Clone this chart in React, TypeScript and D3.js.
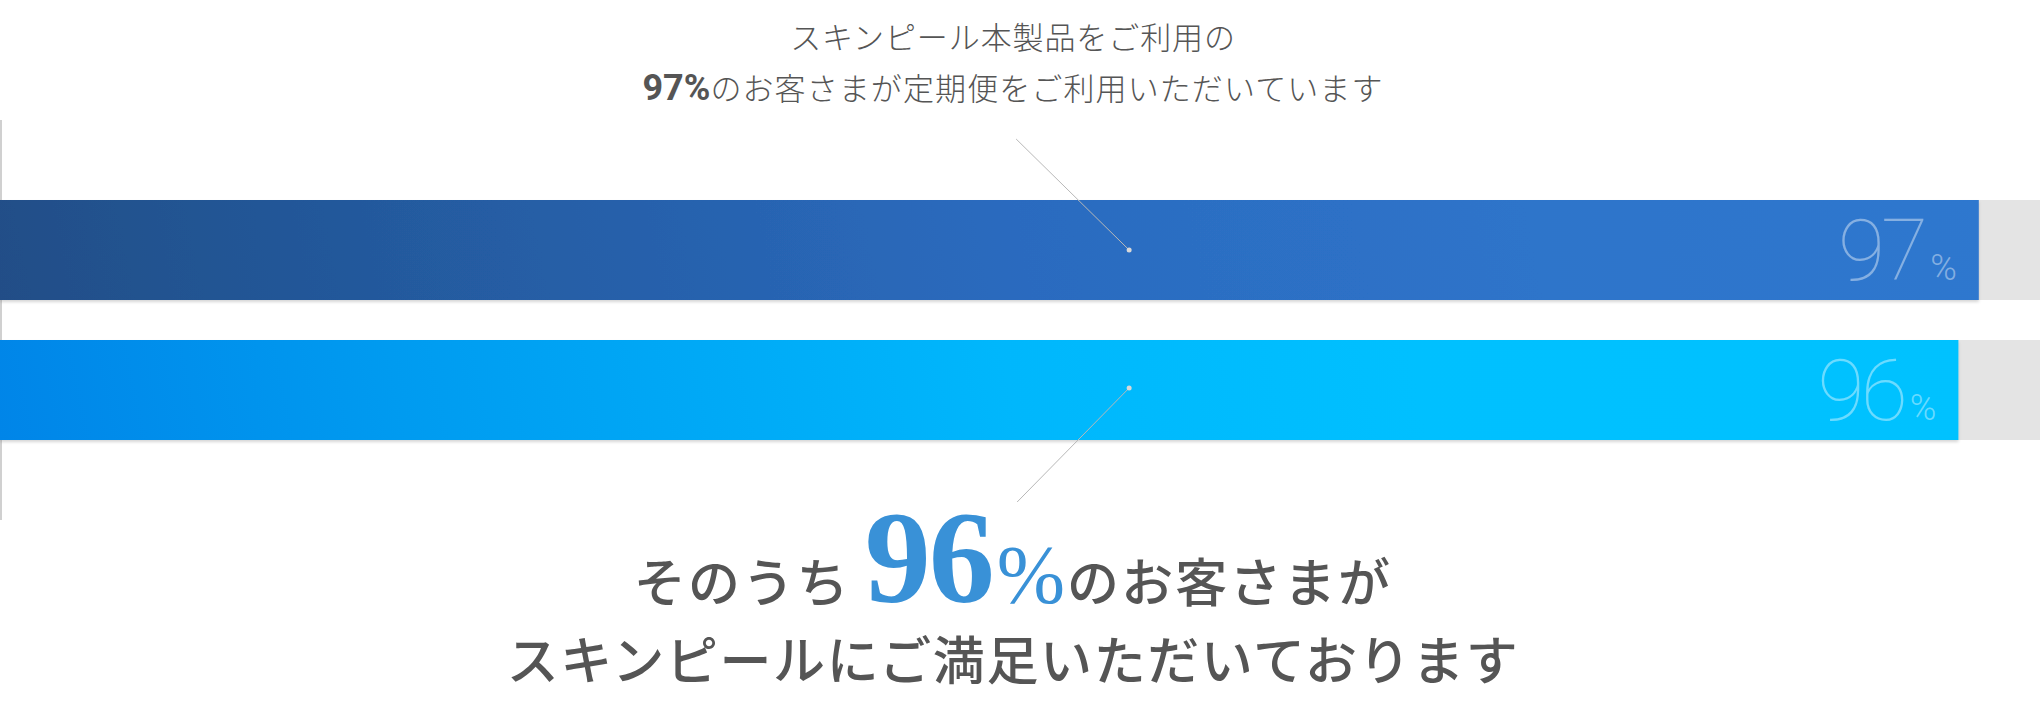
import { useEffect, useRef } from "react";
import * as d3 from "d3";

// Bars (percent of customers)
const CATEGORIES = ["teikibin", "manzoku"];
const VALUES = [97, 96];
// Where the leader lines touch the bars (percent on the x scale)
const CALLOUT_AT = 55.35;

// Texts
const HEAD_LINE_1 = "スキンピール本製品をご利用の";
const HEAD_LINE_2 = "のお客さまが定期便をご利用いただいています";
const FOOT_PRE = "そのうち";
const FOOT_POST = "のお客さまが";
const FOOT_LINE_2 = "スキンピールにご満足いただいております";

const W = 2040;
const H = 720;
const CENTER_X = 1013;
const JP = '"Noto Sans CJK JP", "Noto Sans CJK SC", sans-serif';

const GRADIENTS: [number, string][][] = [
  [[0, "#214e87"], [0.25, "#255da4"], [0.5, "#2b6bbf"], [0.75, "#2e74ca"], [1, "#2e78cf"]],
  [[0, "#0085e8"], [0.2, "#009bf0"], [0.5, "#00b7fc"], [0.7, "#00c0ff"], [1, "#00c2ff"]],
];

export default function App() {
  const svgRef = useRef<SVGSVGElement>(null);

  useEffect(() => {
    if (!svgRef.current) return;
    const svg = d3.select(svgRef.current);
    svg.selectAll("*").remove();

    const x = d3.scaleLinear().domain([0, 100]).range([0, W]);
    const y = d3
      .scaleBand<string>()
      .domain(CATEGORIES)
      .range([120, 520])
      .paddingInner(2 / 7)
      .paddingOuter(4 / 7);
    const bh = y.bandwidth();

    const defs = svg.append("defs");
    CATEGORIES.forEach((c, i) => {
      const top = y(c) as number;
      const grad = defs
        .append("linearGradient")
        .attr("id", `bar-grad-${i}`)
        .attr("gradientUnits", "userSpaceOnUse")
        .attr("x1", 0)
        .attr("y1", top + bh)
        .attr("x2", x(VALUES[i]))
        .attr("y2", top - 300);
      GRADIENTS[i].forEach(([o, col]) => {
        grad.append("stop").attr("offset", o).attr("stop-color", col);
      });
    });
    const shadow = defs
      .append("filter")
      .attr("id", "bar-shadow")
      .attr("x", "-1%")
      .attr("y", "-10%")
      .attr("width", "102%")
      .attr("height", "130%");
    shadow
      .append("feDropShadow")
      .attr("dx", 0)
      .attr("dy", 2)
      .attr("stdDeviation", 1.5)
      .attr("flood-color", "#000")
      .attr("flood-opacity", 0.16);

    // Left axis line
    svg
      .append("line")
      .attr("x1", 1)
      .attr("x2", 1)
      .attr("y1", y.range()[0])
      .attr("y2", y.range()[1])
      .attr("stroke", "#d0d0d0")
      .attr("stroke-width", 2);

    // Grey tracks (100%)
    svg
      .selectAll("rect.track")
      .data(CATEGORIES)
      .join("rect")
      .attr("class", "track")
      .attr("x", x(0))
      .attr("y", (d) => y(d) as number)
      .attr("width", x(100) - x(0))
      .attr("height", bh)
      .attr("fill", "#e4e4e4");

    // Bars
    svg
      .selectAll("rect.bar")
      .data(CATEGORIES)
      .join("rect")
      .attr("class", "bar")
      .attr("x", x(0))
      .attr("y", (d) => y(d) as number)
      .attr("width", (_, i) => x(VALUES[i]) - x(0))
      .attr("height", bh)
      .attr("fill", (_, i) => `url(#bar-grad-${i})`)
      .attr("filter", "url(#bar-shadow)");

    // Value labels inside bars
    CATEGORIES.forEach((c, i) => {
      const t = svg
        .append("text")
        .attr("x", x(VALUES[i]) - 22)
        .attr("y", (y(c) as number) + 80)
        .attr("text-anchor", "end")
        .attr("fill", "#ffffff")
        .attr("fill-opacity", 0.42)
        .attr("font-family", "Roboto, Inter, sans-serif")
        .attr("font-weight", 100);
      t.append("tspan").attr("font-size", 86).attr("letter-spacing", -4).text(VALUES[i]);
      t.append("tspan").attr("font-size", 36).attr("font-weight", 300).attr("dx", 6).text("%");
    });

    // Leader lines
    const cx = x(CALLOUT_AT);
    const callouts = [
      { from: [cx - 113, 139], to: [cx, (y(CATEGORIES[0]) as number) + bh / 2] },
      { from: [cx - 112, 502], to: [cx, (y(CATEGORIES[1]) as number) + bh / 2 - 2] },
    ];
    callouts.forEach((co) => {
      svg
        .append("line")
        .attr("x1", co.from[0])
        .attr("y1", co.from[1])
        .attr("x2", co.to[0])
        .attr("y2", co.to[1])
        .attr("stroke", "#b8b8b8")
        .attr("stroke-width", 1);
      svg
        .append("circle")
        .attr("cx", co.to[0])
        .attr("cy", co.to[1])
        .attr("r", 2.5)
        .attr("fill", "#d8d8d8");
    });

    // Header text
    svg
      .append("text")
      .attr("x", CENTER_X)
      .attr("y", 49)
      .attr("text-anchor", "middle")
      .attr("fill", "#555")
      .attr("font-family", JP)
      .attr("font-size", 31)
      .attr("font-weight", 300)
      .attr("letter-spacing", 0.9)
      .text(HEAD_LINE_1);
    const h2 = svg
      .append("text")
      .attr("x", CENTER_X)
      .attr("y", 100)
      .attr("text-anchor", "middle")
      .attr("fill", "#555")
      .attr("font-family", JP)
      .attr("font-size", 31)
      .attr("font-weight", 300)
      .attr("letter-spacing", 1.1);
    h2.append("tspan")
      .attr("font-family", "Roboto, Arial, sans-serif")
      .attr("font-weight", 700)
      .attr("font-size", 36)
      .attr("letter-spacing", 0)
      .text(`${VALUES[0]}%`);
    h2.append("tspan").text(HEAD_LINE_2);

    // Footer text
    const f1 = svg
      .append("text")
      .attr("x", CENTER_X)
      .attr("y", 602)
      .attr("text-anchor", "middle")
      .attr("fill", "#555")
      .attr("font-family", JP)
      .attr("font-size", 52)
      .attr("font-weight", 500)
      .attr("letter-spacing", 2.2);
    f1.append("tspan").text(FOOT_PRE);
    f1.append("tspan")
      .attr("dx", 14)
      .attr("font-family", '"Liberation Serif", serif')
      .attr("font-weight", 700)
      .attr("font-size", 132)
      .attr("letter-spacing", -2)
      .attr("fill", "#3991d7")
      .text(VALUES[1]);
    f1.append("tspan")
      .attr("dx", 4)
      .attr("font-family", '"Liberation Serif", serif')
      .attr("font-weight", 400)
      .attr("font-size", 82)
      .attr("letter-spacing", 0)
      .attr("fill", "#3991d7")
      .text("%");
    f1.append("tspan").attr("dx", 2).text(FOOT_POST);

    svg
      .append("text")
      .attr("x", CENTER_X)
      .attr("y", 680)
      .attr("text-anchor", "middle")
      .attr("fill", "#555")
      .attr("font-family", JP)
      .attr("font-size", 52)
      .attr("font-weight", 500)
      .attr("letter-spacing", 1.6)
      .text(FOOT_LINE_2);
  }, []);

  return (
    <svg
      ref={svgRef}
      width={W}
      height={H}
      style={{ position: "absolute", left: 0, top: 0, background: "#fff" }}
    />
  );
}
